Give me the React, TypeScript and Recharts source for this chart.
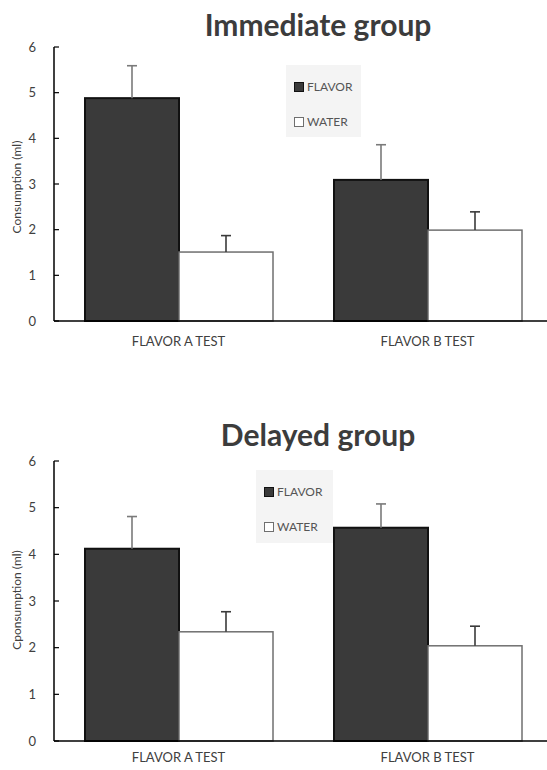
import { BarChart, Bar, XAxis, YAxis } from "recharts";

const categories = ["FLAVOR A TEST", "FLAVOR B TEST"];
const yTicks = [0, 1, 2, 3, 4, 5, 6];

// immediate group
const immediateFlavor = [4.88, 3.09];
const immediateFlavorErr = [0.71, 0.77];
const immediateWater = [1.51, 1.99];
const immediateWaterErr = [0.36, 0.4];

// delayed group
const delayedFlavor = [4.12, 4.57];
const delayedFlavorErr = [0.69, 0.51];
const delayedWater = [2.34, 2.04];
const delayedWaterErr = [0.43, 0.42];

const FONT = "Lato, 'Open Sans', sans-serif";
const TEXT = "#404040";

const makeShape =
  (valueKey: string, errKey: string, fill: string, stroke: string, sw: number, errColor: string) =>
  (props: any) => {
    const { x, y, width, height, payload } = props;
    const val = payload[valueKey];
    const err = payload[errKey];
    const cx = x + width / 2;
    const errTop = y - (err * height) / val;
    return (
      <g>
        <rect x={x} y={y} width={width} height={height} fill={fill} stroke={stroke} strokeWidth={sw} />
        <line x1={cx} y1={y} x2={cx} y2={errTop} stroke={errColor} strokeWidth={1.6} />
        <line x1={cx - 5} y1={errTop} x2={cx + 5} y2={errTop} stroke={errColor} strokeWidth={1.6} />
      </g>
    );
  };

const flavorShape = makeShape("flavor", "flavorErr", "#3a3a3a", "#111", 2, "#7a7a7a");
const waterShape = makeShape("water", "waterErr", "#ffffff", "#6f6f6f", 1.5, "#3a3a3a");

type PanelProps = {
  top: number;
  title: string;
  titleTop: number;
  yLabel: string;
  yLabelY: number;
  flavor: number[];
  flavorErr: number[];
  water: number[];
  waterErr: number[];
  height: number;
  marginTop: number;
  xHeight: number;
  xTickMargin: number;
  legend: { left: number; top: number; width: number; height: number };
};

const Panel = (p: PanelProps) => {
  const data = categories.map((name, i) => ({
    name,
    flavor: p.flavor[i],
    flavorErr: p.flavorErr[i],
    water: p.water[i],
    waterErr: p.waterErr[i],
  }));

  return (
    <div style={{ position: "absolute", left: 0, top: p.top, width: 547, height: p.height }}>
      <div
        style={{
          position: "absolute",
          left: 318,
          top: p.titleTop,
          transform: "translateX(-50%)",
          fontSize: 30,
          fontWeight: 700,
          color: "#3c3c3c",
          whiteSpace: "nowrap",
          lineHeight: 1,
        }}
      >
        {p.title}
      </div>
      <div
        style={{
          position: "absolute",
          left: 16,
          top: p.yLabelY,
          transform: "translate(-50%, -50%) rotate(-90deg)",
          fontSize: 12,
          color: TEXT,
          whiteSpace: "nowrap",
        }}
      >
        {p.yLabel}
      </div>
      <BarChart
        width={552}
        height={p.height}
        data={data}
        margin={{ top: p.marginTop, right: 0, bottom: 0, left: 0 }}
        barGap={0}
        barSize={94}
      >
        <XAxis
          dataKey="name"
          height={p.xHeight}
          tickLine={false}
          tickSize={0}
          tickMargin={p.xTickMargin}
          axisLine={{ stroke: "#000", strokeWidth: 1.5 }}
          tick={{ fill: TEXT, fontSize: 13 }}
        />
        <YAxis
          width={54}
          domain={[0, 6]}
          ticks={yTicks}
          interval={0}
          tickSize={-5}
          tickMargin={23}
          axisLine={{ stroke: "#000", strokeWidth: 1.5 }}
          tickLine={{ stroke: "#000", strokeWidth: 1.2 }}
          tick={{ fill: TEXT, fontSize: 13 }}
        />
        <Bar dataKey="flavor" shape={flavorShape} isAnimationActive={false} />
        <Bar dataKey="water" shape={waterShape} isAnimationActive={false} />
      </BarChart>
      <div
        style={{
          position: "absolute",
          left: p.legend.left,
          top: p.legend.top,
          width: p.legend.width,
          height: p.legend.height,
          background: "#f4f4f4",
          fontSize: 12,
          color: "#555",
        }}
      >
        {[
          { label: "FLAVOR", fill: "#3a3a3a", stroke: "#111", y: 16 },
          { label: "WATER", fill: "#fff", stroke: "#6f6f6f", y: 51 },
        ].map((it) => (
          <div
            key={it.label}
            style={{ position: "absolute", left: 8, top: it.y, display: "flex", alignItems: "center", lineHeight: "12px" }}
          >
            <span
              style={{
                display: "inline-block",
                width: 8,
                height: 8,
                background: it.fill,
                border: `1.5px solid ${it.stroke}`,
                marginRight: 3,
              }}
            />
            {it.label}
          </div>
        ))}
      </div>
    </div>
  );
};

export default function App() {
  return (
    <div
      style={{
        position: "absolute",
        left: 0,
        top: 0,
        width: 547,
        height: 770,
        overflow: "hidden",
        background: "#fff",
        fontFamily: FONT,
      }}
    >
      <Panel
        top={0}
        title="Immediate group"
        titleTop={9}
        yLabel="Consumption (ml)"
        yLabelY={187}
        flavor={immediateFlavor}
        flavorErr={immediateFlavorErr}
        water={immediateWater}
        waterErr={immediateWaterErr}
        height={360}
        marginTop={47}
        xHeight={39}
        xTickMargin={16}
        legend={{ left: 286, top: 65, width: 75, height: 72 }}
      />
      <Panel
        top={400}
        title="Delayed group"
        titleTop={19}
        yLabel="Cponsumption (ml)"
        yLabelY={200}
        flavor={delayedFlavor}
        flavorErr={delayedFlavorErr}
        water={delayedWater}
        waterErr={delayedWaterErr}
        height={370}
        marginTop={61}
        xHeight={29}
        xTickMargin={12}
        legend={{ left: 256, top: 70, width: 77, height: 73 }}
      />
    </div>
  );
}
